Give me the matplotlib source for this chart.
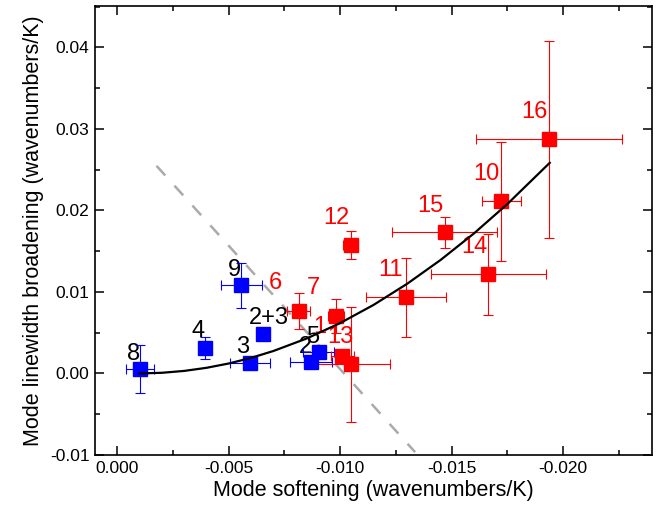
import numpy as np
import matplotlib.pyplot as plt
from matplotlib.ticker import MultipleLocator

plt.rcParams['font.family'] = ['Liberation Sans', 'DejaVu Sans']

# blue modes: softening, broadening, errors
blue_x = [-0.00101, -0.00392, -0.00594, -0.00652, -0.00557, -0.00869, -0.00903]
blue_y = [0.00053, 0.00314, 0.00130, 0.00478, 0.01080, 0.00135, 0.00265]
blue_xerr = [0.00062, 0.0, 0.00090, 0.0, 0.00093, 0.00093, 0.00070]
blue_yerr = [0.00290, 0.00135, 0.0, 0.0, 0.00280, 0.0, 0.0]

# red modes
red_x = [-0.00813, -0.00981, -0.01010, -0.01049, -0.01294, -0.01048,
         -0.01468, -0.01664, -0.01722, -0.01937]
red_y = [0.00764, 0.00706, 0.00220, 0.00110, 0.00932, 0.01573,
         0.01730, 0.01214, 0.02110, 0.02870]
red_xerr = [0.00052, 0.00037, 0.00050, 0.00173, 0.00179, 0.00034,
            0.00237, 0.00257, 0.00087, 0.00327]
red_yerr = [0.00225, 0.00210, 0.00030, 0.00710, 0.00480, 0.00175,
            0.00190, 0.00500, 0.00730, 0.01210]

# fitted curve
fit_x = [-0.0010, -0.0020, -0.0030, -0.0040, -0.0050, -0.0060, -0.0070, -0.0085,
         -0.0100, -0.0115, -0.0130, -0.0145, -0.0160, -0.0175, -0.0194]
fit_y = [0.0000, 0.00008, 0.00031, 0.00069, 0.00122, 0.00191, 0.00275, 0.00429,
         0.00618, 0.00841, 0.01099, 0.01391, 0.01717, 0.02078, 0.02583]

# dashed guide line
dash_x = [-0.00176, -0.01336]
dash_y = [0.02546, -0.00965]

# text labels: (text, x, y, colour)
labels = [
    ('8', -0.00072, 0.00237, 'black'),
    ('4', -0.00363, 0.00519, 'black'),
    ('3', -0.00564, 0.00326, 'black'),
    ('2+3', -0.00682, 0.00675, 'black'),
    ('9', -0.00527, 0.01267, 'black'),
    ('2', -0.00843, 0.00326, 'black'),
    ('5', -0.00878, 0.00441, 'black'),
    ('6', -0.00709, 0.01104, 'red'),
    ('7', -0.00880, 0.01042, 'red'),
    ('1', -0.00910, 0.00571, 'red'),
    ('13', -0.01000, 0.00445, 'red'),
    ('11', -0.01224, 0.01267, 'red'),
    ('12', -0.00985, 0.01901, 'red'),
    ('15', -0.01403, 0.02052, 'red'),
    ('14', -0.01601, 0.01545, 'red'),
    ('10', -0.01654, 0.02444, 'red'),
    ('16', -0.01873, 0.03208, 'red'),
]

fig = plt.figure(figsize=(6.58, 5.13), dpi=100)
ax = fig.add_axes([0.1444, 0.1131, 0.8469, 0.8758])

ax.plot(dash_x, dash_y, color='#aaaaaa', lw=1.8, dashes=(5.2, 5.5), zorder=1)

for t, x, y, c in labels:
    ax.text(x, y, t, color=c, fontsize=17, ha='center', va='center', zorder=2)

ax.errorbar(blue_x, blue_y, xerr=blue_xerr, yerr=blue_yerr, fmt='s', color='#0000ff',
            ms=9.4, elinewidth=0.8, capsize=3.6, capthick=0.8, zorder=3)
ax.errorbar(red_x, red_y, xerr=red_xerr, yerr=red_yerr, fmt='s', color='#ff0000',
            ms=9.4, elinewidth=0.8, capsize=3.6, capthick=0.8, zorder=3)

ax.plot(fit_x, fit_y, color='black', lw=1.6, zorder=4)

ax.set_xlim(0.001, -0.024)
ax.set_ylim(-0.01, 0.0451)
ax.xaxis.set_major_locator(MultipleLocator(0.005))
ax.xaxis.set_minor_locator(MultipleLocator(0.0025))
ax.yaxis.set_major_locator(MultipleLocator(0.01))
ax.yaxis.set_minor_locator(MultipleLocator(0.005))
ax.xaxis.set_major_formatter(plt.FuncFormatter(lambda v, p: '%.3f' % v if abs(v) > 1e-9 else '0.000'))
ax.yaxis.set_major_formatter(plt.FuncFormatter(lambda v, p: '%.2f' % v if abs(v) > 1e-9 else '0.00'))
ax.tick_params(which='both', direction='in', top=True, right=True, width=1.1, labelsize=12.5, pad=4)
ax.tick_params(which='major', length=6.5)
ax.tick_params(which='minor', length=3.5)
for s in ax.spines.values():
    s.set_linewidth(1.2)

ax.set_xlabel('Mode softening (wavenumbers/K)', fontsize=15.5, labelpad=3)
ax.set_ylabel('Mode linewidth broadening (wavenumbers/K)', fontsize=15.5, labelpad=4)

fig.savefig('out.png', dpi=100)
